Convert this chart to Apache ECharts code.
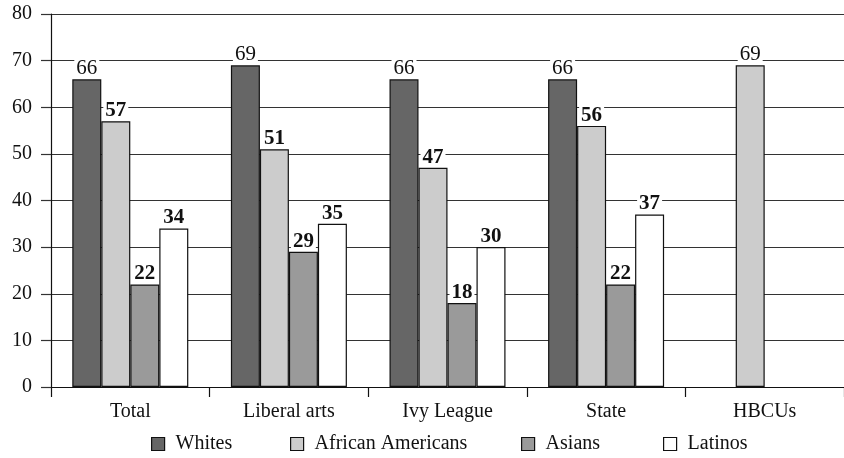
<!DOCTYPE html>
<html>
<head>
<meta charset="utf-8">
<script src="https://cdn.jsdelivr.net/npm/echarts@6/dist/echarts.min.js"></script>
<style>
  html, body { margin: 0; padding: 0; background: #fff; }
  #chart { width: 844px; height: 458px; }
</style>
</head>
<body>
<div id="chart"></div>
<script>
// Share of students by group and type of institution
const categories = ['Total', 'Liberal arts', 'Ivy League', 'State', 'HBCUs'];
const seriesNames = ['Whites', 'African Americans', 'Asians', 'Latinos'];
const whites = [66, 69, 66, 66, null];
const africanAmericans = [57, 51, 47, 56, 69];
const asians = [22, 29, 18, 22, null];
const latinos = [34, 35, 30, 37, null];
const yTicks = { min: 0, max: 80, interval: 10 };

const FONT = '"Liberation Serif", "DejaVu Serif", serif';

function labelStyle(weight) {
  return {
    show: true,
    position: 'top',
    distance: 2,
    fontFamily: FONT,
    fontSize: 21,
    fontWeight: weight,
    color: '#111',
    backgroundColor: '#fff',
    padding: [0, 2, -2, 2]
  };
}

function makeSeries(name, values, color, weight, normalIdx) {
  return {
    name: name,
    type: 'bar',
    barWidth: 29,
    barGap: '0%',
    data: values.map((v, i) => {
      if (v === null) return '-';
      const item = { value: v };
      if (normalIdx && normalIdx.includes(i)) item.label = { fontWeight: 'normal' };
      return item;
    }),
    itemStyle: { color: color, borderColor: '#111', borderWidth: 1.2 },
    label: labelStyle(weight)
  };
}

// one legend block per series so each entry sits at its own spot
const legendLefts = [151, 290, 521, 663];
const legends = seriesNames.map((name, i) => ({
  left: legendLefts[i],
  top: 434,
  padding: 0,
  itemWidth: 13,
  itemHeight: 13,
  icon: 'rect',
  itemStyle: { borderColor: '#111', borderWidth: 1.2 },
  textStyle: { fontFamily: FONT, fontSize: 20, color: '#111', padding: [0, 0, 0, 6] },
  data: [name]
}));

const chart = echarts.init(document.getElementById('chart'), null, { renderer: 'canvas' });
chart.setOption({
  animation: false,
  backgroundColor: '#fff',
  grid: { left: 51, top: 14, bottom: 71, right: -6, containLabel: false },
  legend: legends,
  xAxis: {
    type: 'category',
    data: categories,
    axisLine: { lineStyle: { color: '#111', width: 1.2 } },
    axisTick: { show: true, length: 10, lineStyle: { color: '#111', width: 1.2 } },
    axisLabel: { fontFamily: FONT, fontSize: 20, color: '#111', margin: 15 }
  },
  yAxis: {
    type: 'value',
    min: yTicks.min,
    max: yTicks.max,
    interval: yTicks.interval,
    axisLine: { show: true, lineStyle: { color: '#111', width: 1.2 } },
    axisTick: { show: true, length: 10, lineStyle: { color: '#333', width: 1.2 } },
    splitLine: { show: true, lineStyle: { color: '#333', width: 1.2 } },
    axisLabel: { fontFamily: FONT, fontSize: 20, color: '#111', margin: 19 }
  },
  series: [
    makeSeries(seriesNames[0], whites, '#666666', 'normal'),
    makeSeries(seriesNames[1], africanAmericans, '#cccccc', 'bold', [4]),
    makeSeries(seriesNames[2], asians, '#9a9a9a', 'bold'),
    makeSeries(seriesNames[3], latinos, '#ffffff', 'bold')
  ]
});
</script>
</body>
</html>
